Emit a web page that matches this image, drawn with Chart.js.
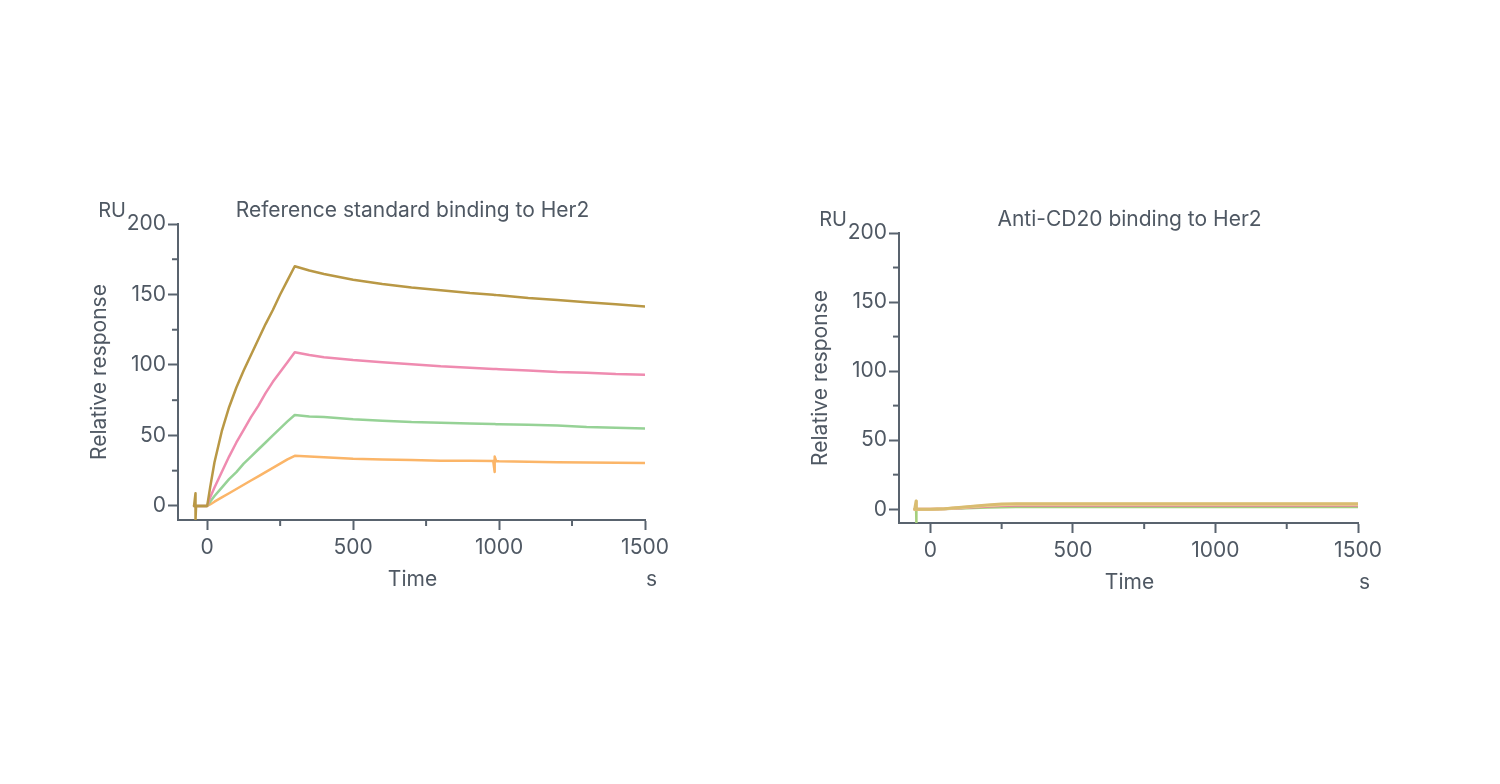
<!DOCTYPE html>
<html>
<head>
<meta charset="utf-8">
<script src="https://cdn.jsdelivr.net/npm/chart.js@4.4.1/dist/chart.umd.min.js"></script>
<style>
  body { margin: 0; background: #fff; }
  .box { position: absolute; top: 0; width: 750px; height: 784px; }
  #left-box { left: 0; }
  #right-box { left: 750px; }
</style>
</head>
<body>
<div class="box" id="left-box"><canvas id="chart-left"></canvas></div>
<div class="box" id="right-box"><canvas id="chart-right"></canvas></div>
<script>
// left: reference standard, times in s (spikes repeat a time value)
const timeLeft = [-45, -40, -40, -38, 0, 10, 25, 50, 75, 100, 125, 150, 175, 200, 225, 250, 275, 300,
    350, 400, 500, 600, 700, 800, 900, 980, 985, 985, 990, 1000, 1100, 1200, 1300, 1400, 1500];
const brownLeft = [0, 9, -10, 0, 0, 13, 31, 53, 70, 84, 96, 107, 118, 129, 139, 150, 160, 170,
    167, 164.5, 160.5, 157.5, 155, 153, 151, 149.8, 149.7, 149.7, 149.6, 149.5, 147.5, 146, 144.5, 143, 141.5];
const pinkLeft = [0, 0, 0, 0, 0, 6, 13, 24, 35, 45, 54, 63, 71, 80, 88, 95, 102, 109,
    107, 105.5, 103.5, 102, 100.5, 99, 98, 97.2, 97.1, 97.1, 97.1, 97, 96, 95, 94.5, 93.5, 93];
const greenLeft = [0, 0, 0, 0, 0, 3, 7, 13, 19, 24, 30, 35, 40, 45, 50, 55, 60, 64.5,
    63.5, 63, 61.5, 60.5, 59.5, 59, 58.5, 58.1, 58.1, 58.1, 58, 58, 57.5, 57, 56, 55.5, 55];
const orangeLeft = [0, 0, 0, 0, 0, 1, 3, 6, 9, 12, 15, 18, 21, 24, 27, 30, 33, 35.5,
    35, 34.5, 33.5, 33, 32.5, 32, 32, 31.8, 24, 35, 31.7, 31.6, 31.3, 31, 30.8, 30.6, 30.5];

// right: anti-CD20
const timeRight = [-55, -50, -50, -48, 0, 50, 100, 150, 200, 250, 300, 500, 1000, 1500];
const brownRight = [0, 6, 0, 0, 0, 0.4, 1.2, 2.2, 3.1, 3.7, 4, 4, 4, 4];
const orangeRight = [0, 0, 0, 0, 0, 0.3, 1, 1.9, 2.7, 3.2, 3.5, 3.5, 3.5, 3.5];
const pinkRight = [0, 0, 0, 0, 0, 0.3, 0.9, 1.6, 2.2, 2.6, 2.8, 2.8, 2.8, 2.8];
const greenRight = [0, 0, -10, 0, 0, 0.2, 0.5, 0.9, 1.2, 1.4, 1.5, 1.5, 1.5, 1.5];

const yTicks = [0, 50, 100, 150, 200];
const yMinor = [25, 75, 125, 175];
const xTicks = [0, 500, 1000, 1500];
const xMinor = [250, 750, 1250];

const axisColor = '#59636e';
const textColor = '#4f5863';
const fontFamily = 'Inter, "Noto Sans", sans-serif';

function points(times, values) {
    return times.map((t, i) => ({ x: t, y: values[i] }));
}

function line(label, times, values, color, width) {
    return {
        label: label,
        data: points(times, values),
        borderColor: color,
        borderWidth: width,
        borderJoinStyle: 'round',
        borderCapStyle: 'round',
        pointRadius: 0,
        tension: 0,
        fill: false,
    };
}

// titles, unit labels and the short minor ticks
const decorPlugin = {
    id: 'decor',
    afterDraw(chart, args, opts) {
        const c = chart.ctx;
        const a = chart.chartArea;
        c.save();
        c.fillStyle = textColor;
        c.textBaseline = 'middle';
        c.textAlign = 'center';
        c.font = '21px ' + fontFamily;
        c.fillText(opts.title, (a.left + a.right) / 2 + 1, a.top - 13);
        c.fillText('Time', (a.left + a.right) / 2 + 1, a.bottom + 60);
        c.textAlign = 'left';
        c.fillText('s', a.right + 1, a.bottom + 60);
        c.font = '20px ' + fontFamily;
        c.textAlign = 'right';
        c.fillText('RU', a.left - 52, a.top - 13);
        c.save();
        c.translate(a.left - 78, (a.top + a.bottom) / 2);
        c.rotate(-Math.PI / 2);
        c.textAlign = 'center';
        c.font = '21px ' + fontFamily;
        c.fillText('Relative response', 0, 0);
        c.restore();

        c.strokeStyle = axisColor;
        c.lineWidth = 2;
        const xs = chart.scales.x;
        const ys = chart.scales.y;
        xMinor.forEach(v => {
            const px = xs.getPixelForValue(v);
            c.beginPath();
            c.moveTo(px, a.bottom);
            c.lineTo(px, a.bottom + 6);
            c.stroke();
        });
        yMinor.forEach(v => {
            const py = ys.getPixelForValue(v);
            c.beginPath();
            c.moveTo(a.left, py);
            c.lineTo(a.left - 6, py);
            c.stroke();
        });
        c.restore();
    },
};

function makeChart(id, title, datasets, xMin, padding) {
    return new Chart(document.getElementById(id), {
        type: 'line',
        data: { datasets: datasets },
        plugins: [decorPlugin],
        options: {
            responsive: true,
            maintainAspectRatio: false,
            animation: false,
            layout: { padding: padding },
            plugins: {
                legend: { display: false },
                tooltip: { enabled: false },
                decor: { title: title },
            },
            scales: {
                x: {
                    type: 'linear',
                    min: xMin,
                    max: 1500,
                    afterBuildTicks: s => { s.ticks = xTicks.map(v => ({ value: v })); },
                    afterFit: s => { s.height = 40; },
                    grid: { drawOnChartArea: false, tickLength: 10, tickColor: axisColor, tickWidth: 2 },
                    border: { color: axisColor, width: 2 },
                    ticks: { color: textColor, font: { size: 21, family: fontFamily }, padding: 5, maxRotation: 0,
                        callback: v => String(v) },
                },
                y: {
                    min: -10,
                    max: 200,
                    afterBuildTicks: s => { s.ticks = yTicks.map(v => ({ value: v })); },
                    afterFit: s => { s.width = 60; },
                    grid: { drawOnChartArea: false, tickLength: 10, tickColor: axisColor, tickWidth: 2 },
                    border: { color: axisColor, width: 2 },
                    ticks: { color: textColor, font: { size: 21, family: fontFamily }, padding: 2,
                        callback: v => String(v) },
                },
            },
        },
    });
}

makeChart('chart-left', 'Reference standard binding to Her2', [
    line('c1', timeLeft, brownLeft, '#b99845', 2.5),
    line('c2', timeLeft, pinkLeft, '#ef8bb0', 2.5),
    line('c3', timeLeft, greenLeft, '#96d296', 2.5),
    line('c4', timeLeft, orangeLeft, '#fbb568', 2.5),
], -100, { left: 118, right: 105, top: 224, bottom: 224 });

makeChart('chart-right', 'Anti-CD20 binding to Her2', [
    line('c1', timeRight, brownRight, '#d9bc70', 3),
    line('c2', timeRight, orangeRight, '#f2dc9c', 3),
    line('c3', timeRight, pinkRight, '#e8809e', 3),
    line('c4', timeRight, greenRight, '#a6cf7c', 2.5),
], -110, { left: 89, right: 142, top: 233, bottom: 221 });
</script>
</body>
</html>
